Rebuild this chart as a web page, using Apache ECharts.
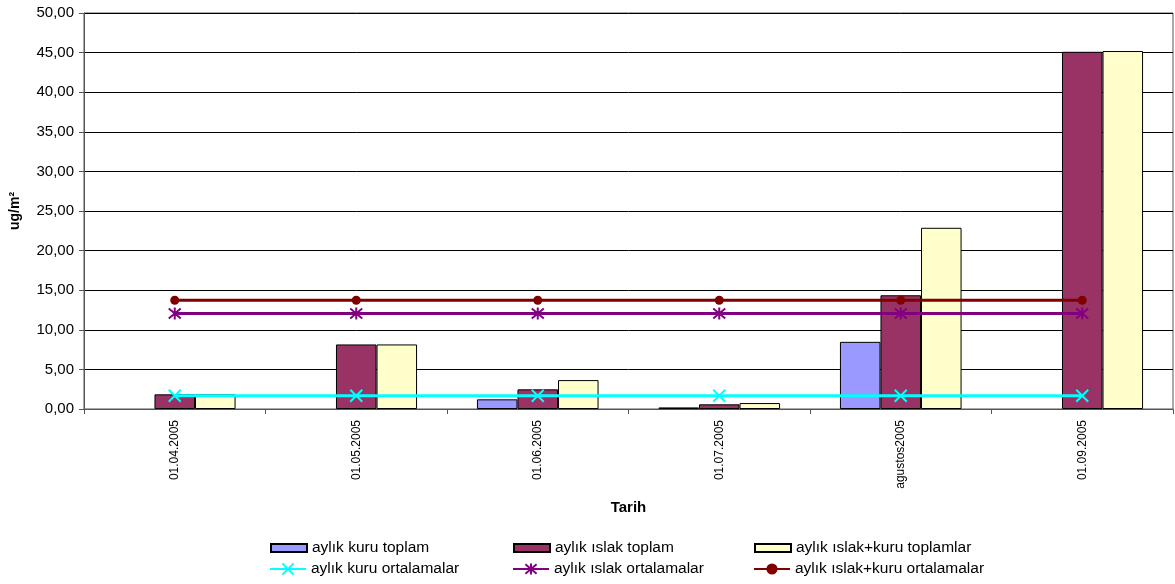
<!DOCTYPE html>
<html>
<head>
<meta charset="utf-8">
<script src="https://cdn.jsdelivr.net/npm/echarts@6/dist/echarts.min.js"></script>
<style>
html,body{margin:0;padding:0;background:#fff;}
#c{width:1175px;height:584px;}
</style>
</head>
<body>
<div id="c"></div>
<script>
const categories = ['01.04.2005','01.05.2005','01.06.2005','01.07.2005','agustos2005','01.09.2005'];
const kuruToplam = [null, null, 1.22, 0.20, 8.48, null];
const islakToplam = [1.85, 8.15, 2.48, 0.59, 14.36, 45.10];
const islakKuruToplam = [1.85, 8.15, 3.65, 0.75, 22.88, 45.20];
const kuruOrtalama = [1.68, 1.68, 1.68, 1.68, 1.68, 1.68];
const islakOrtalama = [12.05, 12.05, 12.05, 12.05, 12.05, 12.05];
const islakKuruOrtalama = [13.73, 13.73, 13.73, 13.73, 13.73, 13.73];
const yTicks = {min: 0, max: 50, interval: 5};

const names = ['aylık kuru toplam','aylık ıslak toplam','aylık ıslak+kuru toplamlar',
               'aylık kuru ortalamalar','aylık ıslak ortalamalar','aylık ıslak+kuru ortalamalar'];
const FONT = 'Liberation Sans, Arial, sans-serif';
const xPath = 'path://M0,0L10,10M10,0L0,10';
const starPath = 'path://M0,0L10,10M10,0L0,10M5,-1L5,11';

function barS(name, data, color){
  return {name, type:'bar', data, barGap:'0%', barCategoryGap:'33%',
    itemStyle:{color, borderColor:'#000', borderWidth:1}, z:2};
}
function lineS(name, data, color, symbol, size){
  return {name, type:'line', data, symbol, symbolSize:size, z:5,
    lineStyle:{color, width:3}, itemStyle:{color, borderColor:color, borderWidth: symbol==='circle'?0:2},
    emphasis:{disabled:true}};
}
function leg(name, left, top, h, icon){
  const o = {data:[name], left, top, itemWidth:36, itemHeight:h, itemGap:7, padding:0,
    textStyle:{fontFamily:FONT, fontSize:15.5, color:'#000'}, selectedMode:false};
  if (icon) o.icon = icon;
  return o;
}

const chart = echarts.init(document.getElementById('c'), null, {renderer:'canvas'});
chart.setOption({
  animation:false,
  textStyle:{fontFamily:FONT},
  grid:{left:83, right:2, top:13, bottom:175, show:true, borderColor:'#555', borderWidth:1, backgroundColor:'transparent'},
  legend:[
    leg(names[0], 270, 540, 8, 'rect'),
    leg(names[1], 513, 540, 8, 'rect'),
    leg(names[2], 754, 540, 8, 'rect'),
    leg(names[3], 269, 561, 14),
    leg(names[4], 512, 561, 14),
    leg(names[5], 753, 561, 14)
  ],
  xAxis:{type:'category', data:categories,
    name:'Tarih', nameLocation:'middle', nameGap:91,
    nameTextStyle:{fontFamily:FONT, fontSize:15, fontWeight:'bold', color:'#000'},
    axisLine:{lineStyle:{color:'#555', width:1}},
    axisTick:{show:true, length:5, lineStyle:{color:'#555'}},
    axisLabel:{rotate:90, margin:11, fontSize:12, fontFamily:FONT, color:'#000'}},
  yAxis:{type:'value', min:yTicks.min, max:yTicks.max, interval:yTicks.interval,
    name:'ug/m²', nameLocation:'middle', nameGap:62, nameRotate:90,
    nameTextStyle:{fontFamily:FONT, fontSize:14, fontWeight:'bold', color:'#000'},
    axisLine:{show:true, lineStyle:{color:'#555', width:1}},
    axisTick:{show:true, length:5, lineStyle:{color:'#555'}},
    splitLine:{lineStyle:{color:'#000', width:1}},
    axisLabel:{margin:10, fontSize:15, fontFamily:FONT, color:'#000',
      formatter:v=>v.toFixed(2).replace('.', ',')}},
  series:[
    barS(names[0], kuruToplam, '#9999FF'),
    barS(names[1], islakToplam, '#993366'),
    barS(names[2], islakKuruToplam, '#FFFFCC'),
    lineS(names[3], kuruOrtalama, '#00FFFF', xPath, 12),
    lineS(names[4], islakOrtalama, '#800080', starPath, 12),
    lineS(names[5], islakKuruOrtalama, '#800000', 'circle', 9)
  ]
});
</script>
</body>
</html>
